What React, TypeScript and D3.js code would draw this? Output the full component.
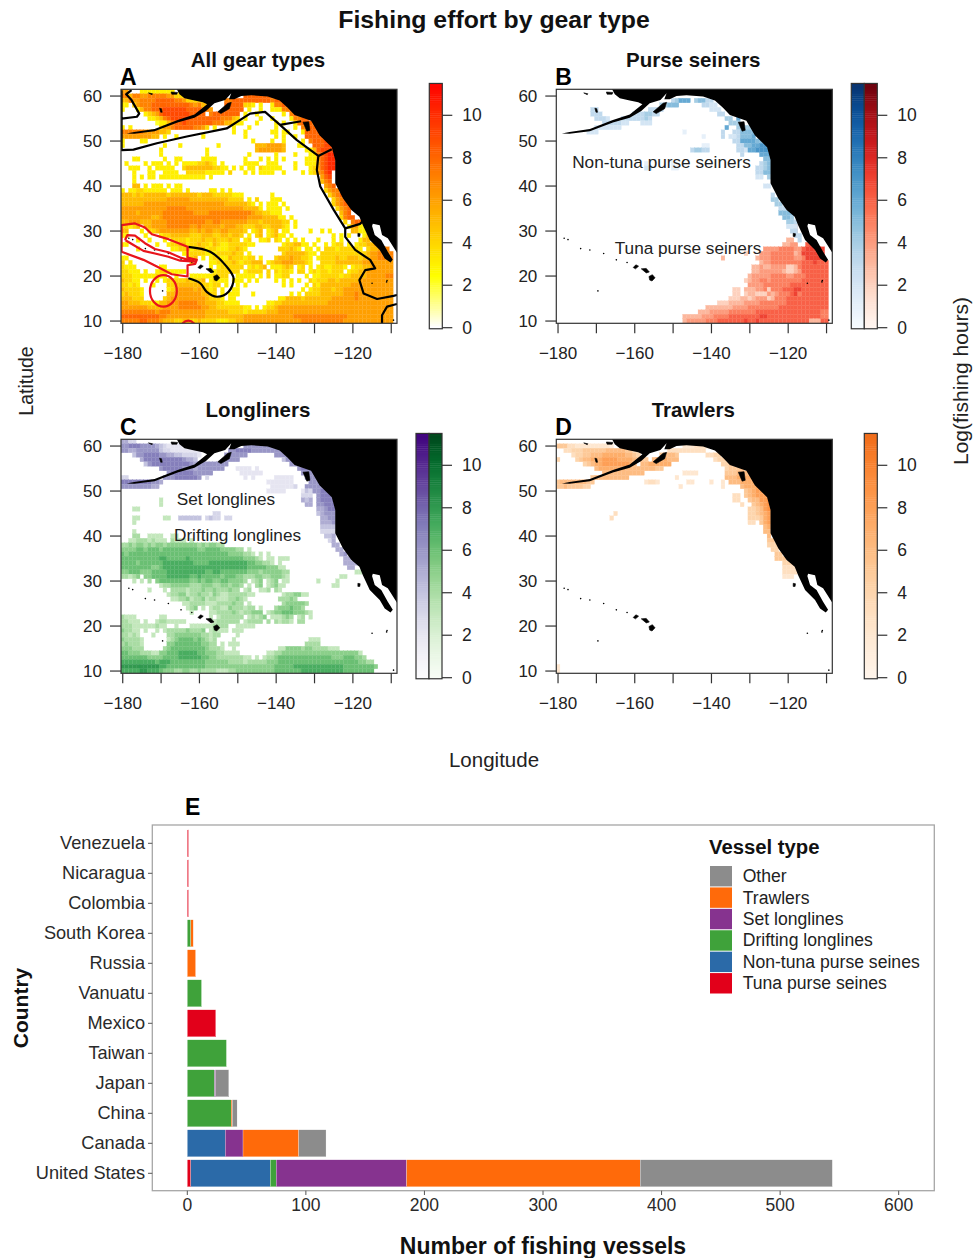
import React from 'react';
import * as d3 from 'd3';

// Grid rows run from 61N down to 10N. Each group is one decade of longitude, starting at -180.
// '.' or a missing cell is no effort, '_' is an empty decade, digits are log(fishing hours).
const allGearRows = [
  "66...33333 3333.3",
  "7757766777 7766444..3 _ ..88888888 888",
  "5576677778 8888776444 44.....778 8888888887 88877",
  "33.4677788 8888888876 755....888 88443.3..3 77888",
  "3...357788 8999999888 8776...888 88.3..3..3 33778888",
  "......3456 8999999988 88.7888888 8.3..3.... ..3.7888",
  ".......334 5789999988 8888887775 4.3...3..3 ....37788",
  ".........2 3357889888 8888777554 33...3.... 3.3..37888 7",
  "3.3....... 4667888887 764.3....3 ...3...... 3....3.778 88",
  "7777776666 554....... .........3 ..3......3 3.33...388 88",
  "6666666655 .3..3..... .3........ ..3....... 3.3..3..88 888",
  "3....33... _ _ ....3....3 ..3....3.7 88899",
  "3......... .3...3.... .....3.... .....55566 665...33.. 88899",
  "_ 3......... ..3....... .....56666 665.....33 589999",
  "_ 3......... ..3....... ...3...... 3....3...3 3789aa",
  "...33..... .3..33.... .3333..... ..3...3.3. 3.3.....33 3689aa",
  ".3....3.33 3.3.3.3333 44543.3... ..3333..33 3....3..33 3689aa",
  "..333..3.3 3333..4555 55554433.3 .3.33.4333 33...3...3 4689aa",
  "...3...33. .3333..444 4433333.4. ..3.3.3333 ..3....3.3 4679a",
  "...3.3.33. 3333333333 33.3...... _ _ ..689",
  "...3...... _ _ _ _ ..578",
  "...55.3.33 3.3.33.... _ _ _ ...678",
  "3.33443333 33.333.3.. ...33.3.3. _ _ ...4677",
  "5554545555 5545555555 4555444443 33.......3 _ ....46788",
  "5555555555 5566666655 5555555544 44.3.4...3 33 .....46788",
  "5555556666 6666666666 6666666555 55543.3.33 3.3. .....46788",
  "6666666666 6677777666 6666666666 6655553.33 33.3 ......4678",
  "6666566666 6777777776 6667777777 7777655443 33 .......578",
  "6666666655 6777777777 7777777777 7776666555 533.3 .......478 8",
  "5566655566 6677777777 7766776666 6665554555 5544.3 ........4 788",
  "44345.5566 6677777766 7666665666 5544455445 5543.3 .........3 6633",
  "55...3.445 6666666655 6566556655 554.345.34 5.33.....3 ..3.3..... 5533",
  "33....3... 3445555544 4555445545 54.3.45.34 533.3..... .....3.3.3 ...35",
  "....3..3.. .3.4444344 4544544454 4.34..334. 43.3.3.3.. .3...3.3.. ..355",
  "33.......3 ..34455344 5443543344 44433..... ..3445533. 3..3.344.3 .344556",
  "....3..... ...3344534 4534433344 543....... .444543.33 .3.4443444 443.455677",
  "_ ......3344 4433344445 44.3...... ..45555543 3.44444444 4444566777 7",
  "33........ .......345 .3.3443354 44344.3... 4555655443 .344445445 5545566777 7",
  "4.3....... ........3. ...3344445 4344555.34 5566655543 ..44445555 5556666666 6",
  "4333...... 33........ ...3.34444 44.34345.3 33454.34.3 .34334443. 3445566666 6",
  "44333.3..3 4433333... ....344444 4.34444.4. 43443.44.3 43443444.3 4455666666 6",
  "4443333334 33..3...33 33334444.. 33333.3.4. 3344....3. 3344444344 5555666667 7",
  "54433.3..3 .344444544 45.34333.3 33.3.3.... 3.3.3.3..4 3444554555 5566666666 6",
  "44343...3. ..44555555 544344.3.. 3.3....... ..3.3...3. 4355555555 6666666666 6",
  "544443.... ..34566665 65434.3..3 3......... .......3.3 4455545566 6666666666 6",
  "454443.... ..55666666 65544.3.33 3...3..... ....3.3.44 4455555566 6766666666 6",
  "555444.... .456666666 6654443.33 .......... .335555455 5555566666 6766666666 6",
  "6655544433 5566677777 6655544333 3.......33 4455555555 5555666666 6666666666 6",
  "6666666555 5666677777 7665544444 4433.3.344 5666666666 6666666666 6666666666 6",
  "7777777776 7776666666 6655555544 4434444455 5666666666 6666666666 6666666666 6",
  "8888888888 7766666666 6655555555 5566666666 6666677777 7777777776 6666666666 6",
  "7777788777 6555445544 5444433344 5566666666 6666666777 7777777766 6666666666 6",
];

const tunaRows = [
  "", "", "", "", "", "", "", "", "", "", "", "", "", "", "", "", "", "", "", "", "", "", "", "", "", "", "", "", "", "",
  "_ _ _ _ _ _ ..4",
  "_ _ _ _ _ _ ..3",
  "",
  "_ _ _ _ _ _ 33",
  "_ _ _ _ _ .........3 344..677",
  "_ _ _ _ _ ....444455 5544677777",
  "_ _ _ _ .........2 ...4445555 5534777777",
  "_ _ _ _ ...3 ..34445555 5544577777",
  "_ _ _ _ _ ...3445555 5555666766 6",
  "_ _ _ _ _ .334334444 2235666666 6",
  "_ _ _ _ _ .334444443 2234666666 6",
  "_ _ _ _ _ 3444445555 4455566666 6",
  "_ _ _ _ .........2 3445545555 5555666666 6",
  "_ _ _ _ _ 4444555555 5666666666 6",
  "_ _ _ _ ......22.3 3344525556 6677666666 6",
  "_ _ _ _ ......22.2 3322243455 5675666666 6",
  "_ _ _ _ .....22233 2344423555 6666666666 6",
  "_ _ _ _ ..22233334 4445555555 6666666666 6",
  "_ _ _ .........3 3333334444 5555555566 6666666666 6",
  "_ _ _ .......333 4444455555 5566666666 6666666665 5",
  "_ _ _ ...3333344 4555566666 6667766666 6666666665 5",
  "_ _ _ ...3444445 5566666667 6676666666 6666663336 6",
];

const nonTunaRows = [
  "", "",
  "_ _ _ 34666.4553 3",
  "_ _ .......445 55......33 22",
  ".........3 3......... ....3333.. _ 222",
  ".........3 33........ 3334433... _ ..33",
  "_ 3332...333 33343..... _ ....44.6..",
  "_ ..3333322. ..222..... _ .....444..",
  "_ 2222222... _ _ ....6..444 4",
  "........22 2......... _ ...1...... ...3..3355 55",
  "_ _ _ ........1. ...3.22355 56",
  "_ _ _ _ ......3366 6655",
  "_ _ _ ........11 .......335 56677",
  "_ _ _ .....34433 .......332 667777",
  "_ _ _ _ ........3. ...666",
  "_ _ _ _ _ ....55",
  "_ _ ...1...... 1......... _ ...345",
  "_ _ ...22..... 11 _ ..3345",
  "_ _ _ _ _ ..3355",
  "_ _ _ _ _ ..22.4",
  "",
  "_ _ _ _ _ ....22",
  "",
  "_ _ _ _ _ ......3",
  "_ _ _ _ _ ......44",
  "_ _ _ _ _ .......44",
  "_ _ _ _ _ ........33",
  "_ _ _ _ _ ........55 55",
  "_ _ _ _ _ .........5 54",
  "_ _ _ _ _ _ 443",
  "_ _ _ _ _ _ 222",
  "_ _ _ _ _ _ .33",
  "_ _ _ _ _ _ ..33",
  "_ _ _ _ _ _ ...3",
];

const setRows = [
  "5533......",
  "6677766665 4322221... _ ..66666666 6",
  "6655666666 4332222222 2.......66 7777666666 66",
  "...4667777 6655443333 2......666 666....... 66666",
  ".....57777 7777776554 .......666 6......... ..4677",
  "......4677 7777777765 66666666.. _ ....6677",
  "_ 6777776665 6666666... 2222.2.... ......6777",
  "_ ..67777776 6666...... .222222... .......666 6",
  "33........ .666777777 6.3....... ..2.2..... 22222...66 66",
  "7777777766 5......... _ ........22 22222....6 666",
  "6666666655 _ _ .........2 222223..66 666",
  "_ _ _ ........22 222....243 66777",
  "_ _ _ _ .......333 .6777",
  "_ _ _ _ .......545 .67777",
  "_ _ _ _ ........55 .66777",
  "_ _ _ _ _ .55677",
  "_ _ ....33.... _ _ .45666",
  "_ .....44444 4.3433.33. _ _ ..5566",
  "_ _ _ _ _ ..5556",
  "_ _ _ _ _ ..4444",
  "_ _ _ _ _ ..3333",
  "_ _ _ _ _ ...445",
  "_ _ _ _ _ ....35",
  "_ _ _ _ _ .....55",
  "_ _ _ _ _ ......55",
  "_ _ _ _ _ .......56",
  "_ _ _ _ _ ........55",
  "_ _ _ _ _ ........55 55",
  "_ _ _ _ _ .........5 5",
];

const driftRows = [
  "", "", "", "", "", "", "", "", "", "", "", "", "",
  "_ 3",
  "_ 3",
  "...33",
  "",
  "...33..... .33",
  "...3",
  "",
  "...3",
  "...44..333 3..33",
  "..33444343 33.4333.3.",
  "4454554545 5455555555 4545544...",
  "5555665666 5666666666 5566665555 44.3",
  "6566666666 6666666666 6666666655 55443.3.3.",
  "6666666666 7766666766 6666666666 6655543.33 .333",
  "6666566666 6777777776 6667777777 7776655443 .3",
  "6666666655 6777777777 7777777777 7776666655 533",
  "5566655566 6677777777 7766776666 6665554555 5544 _ .33",
  "44345.5566 6677777766 7666665666 5544455445 5543 .......33",
  "...3.3.4.5 6666666655 6566556655 554.345.34 5.33 .3....3",
  "_ 3445555544 4555445545 54.3.45.34 533 .....33",
  ".......3.. .3.4444344 4544544454 4.34..334. 43",
  "_ ..34455344 5443543344 44433..... ..3445533",
  "_ ...3344534 4534433344 543....... .44454",
  "_ ......3344 4433344445 44.3...... ..4555554",
  "_ .......345 .3.3443354 44344.3... 45556554",
  "_ ........3. ...3344445 4344555.34 5566655543",
  "4333...... 33........ ...3.34444 44.34345.3 33454.34.3",
  "44333.3..3 4433333... ....344444 4.34444.4. 43443.44",
  "4443333334 33..3...33 33334444.. 33333",
  "54433.3..3 .344444544 45.34333.3 33",
  "44343...3. ..44555555 544344.... 3",
  "544443.... ..34566665 65434....3 _ .........3 33",
  "454443.... ..55666666 65544.3.33 3 ........44 44",
  "555444.... .456666666 6654443..3 _ .335555455 4444333",
  "6655544433 5566677777 6655544333 3.......33 4455555555 5555555555 553",
  "6666666555 5666677777 7665544444 4433.3.344 5666666666 6666655566 6554",
  "7777777776 7776666666 6655555544 4434444455 5666666666 6666666666 665544",
  "8888888888 7766666666 6655555555 5555555555 6666677777 7777777766 6666665",
  "7777788777 6555445544 5444433344 5555555555 6666666777 7777777766 666666",
];

const trawlRows = [
  "",
  "5553322222 22221..... _ ...2223332 2",
  "..33444555 5556666655 33.......3 333333333.",
  "....344556 6677777766 54.....566 65.......3 344",
  "4....45667 7788887777 6655.67776 66........ .3444",
  ".......456 7788888887 6.66777777 _ ...445",
  "_ 6777777766 66666655.. _ ....45556.",
  "_ ..66666666 666....... ...2222... ....555666 66",
  ".........5 666666666. _ .2........ ....666777 77",
  "5666666655 _ ...2332... ....22.... 2..2.66677 777",
  "556555544. _ _ ..2....... ...2....67 778",
  "_ _ _ _ .........5 6788",
  "_ _ _ _ ......33.5 67888",
  "_ _ _ _ ......33.. 566889",
  "_ _ _ _ ........3. .56789",
  "_ _ _ _ _ 445689",
  "_ .....3.... _ _ _ 445678",
  "_ ....3..... _ _ _ 444578",
  "_ _ _ _ _ 33.578",
  "_ _ _ _ _ ....67",
  "_ _ _ _ _ ....66",
  "_ _ _ _ _ .....6",
  "_ _ _ _ _ .....55",
  "_ _ _ _ _ .....444",
  "_ _ _ _ _ ......44",
  "_ _ _ _ _ .......55",
  "_ _ _ _ _ .......555",
  "_ _ _ _ _ .........4 44",
  "_ _ _ _ _ .........3 333",
  "_ _ _ _ _ .........3 333",
  "_ _ _ _ _ .........2 22",
  "", "", "", "", "", "", "", "", "", "", "", "", "", "", "", "", "", "", "",
  "2",
  "2",
];

// Coastlines and boundaries, [lon, lat]
const mainland = [
  [-166.1, 61.8], [-165.2, 60.4], [-163.9, 59.5], [-161.3, 59], [-159.1, 58.6], [-158, 58.2], [-161.3, 55.9],
  [-165.7, 54.7], [-171.7, 52.7], [-177, 52], [-179, 51.7], [-177, 51.6], [-171.7, 52.2], [-165.7, 54.1],
  [-161.3, 55.2], [-158.3, 56.7], [-156.1, 58.4], [-153.3, 59.1], [-151.7, 60.6], [-152.3, 59.3], [-150.9, 59.3],
  [-149.1, 60], [-146.5, 60.2], [-142.2, 59.9], [-139.1, 59], [-137, 57.4], [-135.2, 55.8], [-130.9, 54.5],
  [-128.7, 51.3], [-125.5, 48.6], [-124.6, 45.8], [-124.6, 40.6], [-122.6, 37.3], [-120.4, 34.7], [-118.3, 33.2],
  [-117.4, 31.3], [-115.6, 28], [-113, 25.8], [-111.7, 23.9], [-110.2, 23], [-109.6, 23.6], [-110.9, 25.4],
  [-112.6, 28], [-114.3, 29.1], [-115, 31.1], [-114.8, 31.6], [-113, 31.3], [-112.4, 29.1], [-110.9, 28.4],
  [-108.5, 25.2], [-100, 25.2], [-100, 70], [-166.1, 70],
];
const islands = [
  [[-155.2, 56.5], [-152.6, 58.4], [-151.7, 58.6], [-152.2, 57.2], [-154.4, 56.1]], // Kodiak
  [[-133, 54.2], [-131.5, 54.3], [-131.2, 52.4], [-132, 52.2]], // Haida Gwaii
  [[-156.3, 19.9], [-155.4, 20.3], [-154.7, 19.6], [-155.5, 18.9], [-156.1, 19.1]], // Hawaii
  [[-158.3, 21.6], [-157, 21.7], [-156.2, 20.9], [-157, 20.7]], // Maui
  [[-160.4, 21.9], [-159.7, 22.5], [-159, 22.2], [-159.8, 21.6]], // Oahu
  [[-167.4, 60.9], [-165.7, 60.8], [-165.9, 60.4], [-167.2, 60.4]], // Nunivak
  [[-173.3, 60.7], [-172.2, 60.5], [-172.4, 60.3]], // St Matthew
  [[-170.4, 57.3], [-169.9, 57.2], [-169.7, 56.4], [-170.1, 56.4]], // Pribilof
  [[-118.7, 29.5], [-118.1, 29.4], [-118.2, 28.8], [-118.7, 28.8]], // Guadalupe
];
const islets = [
  [-178.4, 28.4], [-177.4, 28.1], [-174.1, 26.1], [-171.7, 25.8], [-168.1, 25], [-164.8, 23.6], [-162, 23],
  [-169.6, 16.7], [-115, 18.4], [-111.1, 19], [-111.2, 18.7], [-109.4, 10.2],
];
const eezBlack = [
  [[-180.3, 61.3], [-180.3, 55], [-176.3, 55.4], [-175.7, 56.1], [-177.7, 59.1], [-179.1, 60.4], [-177.7, 61.3]],
  [[-180.3, 55], [-180.3, 48], [-177.2, 48.1], [-171.1, 49.5], [-163.3, 51], [-152.9, 52.8], [-146.8, 56.1], [-142.9, 56.5],
    [-139, 53.6], [-134.6, 50.2], [-129, 46.7], [-129.4, 43.6], [-128.5, 39.9], [-125, 34.7], [-122, 30.6], [-122, 28.7],
    [-119.4, 25.8], [-115.5, 23.6], [-114.2, 21.7], [-116.8, 21.3], [-118.3, 19.1], [-117.2, 16.1], [-113.7, 14.9],
    [-109.4, 15.6], [-108.5, 15.8]],
  [[-122, 30.6], [-118.1, 31.6], [-117.2, 32.4]],
  [[-139, 53.6], [-133.5, 54.4]],
  [[-129, 46.7], [-125.5, 48.2]],
  [[-108.5, 13.8], [-111.1, 13.2], [-112.4, 11.3], [-112.4, 9.5]],
];
const hawaiiEez = [
  [-162.9, 26.5], [-157.2, 25.4], [-152.9, 22.1], [-151.1, 19.5], [-152.4, 16.5], [-155.5, 15.4], [-158.1, 16.5],
  [-159.8, 18.4], [-162.9, 19.5],
];
const redOuter = [
  [-180.3, 25.4], [-180.3, 31.3], [-176.8, 31.7], [-174.2, 30.8], [-172.4, 29.3], [-168.1, 28.2], [-163.1, 26.5],
  [-163.1, 24.1], [-160.7, 23.6], [-161.1, 22.7], [-163.1, 22.4], [-163.1, 19.9], [-167.2, 20.4], [-171.1, 22.1],
  [-174.6, 23.6], [-180.3, 25.4],
];
const redInner = [
  [-179.4, 28], [-178.8, 29.1], [-176.8, 29], [-174.2, 27.3], [-171.6, 26], [-168.1, 25.3], [-165, 24.1], [-161.1, 23.2],
  [-165, 23.4], [-168.1, 24.3], [-171.6, 25], [-174.6, 25.6], [-177.2, 26.9], [-179.4, 28],
];
const reserveCircles = [
  { lon: -169.4, lat: 16.7, r: 3.5 },
  { lon: -162.9, lat: 8.1, r: 2 },
];

const lonTicks = [-180, -170, -160, -150, -140, -130, -120, -110];
const lonLabels = [-180, -160, -140, -120];
const latTicks = [10, 20, 30, 40, 50, 60];
const barTicks = [0, 2, 4, 6, 8, 10];

// Panel E
const countries = ["Venezuela", "Nicaragua", "Colombia", "South Korea", "Russia", "Vanuatu", "Mexico", "Taiwan", "Japan", "China", "Canada", "United States"];
const vesselTypes = ["Other", "Trawlers", "Set longlines", "Drifting longlines", "Non-tuna purse seines", "Tuna purse seines"];
const stackOrder = ["Tuna purse seines", "Non-tuna purse seines", "Drifting longlines", "Set longlines", "Trawlers", "Other"];
const vesselColors = ["#8c8c8c", "#ff6a0a", "#86338f", "#3fa23a", "#2b6aa8", "#e2001a"];
const tunaVessels = [1, 1, 1, 0, 0, 0, 24, 0, 0, 0, 0, 3];
const nonTunaVessels = [0, 0, 0, 0, 0, 0, 0, 0, 0, 0, 32, 67];
const driftVessels = [0, 0, 0, 3, 0, 12, 0, 33, 23, 37, 0, 5];
const setVessels = [0, 0, 0, 0, 0, 0, 0, 0, 1, 0, 15, 110];
const trawlVessels = [0, 0, 0, 2, 7, 0, 0, 0, 0, 1, 47, 197];
const otherVessels = [0, 0, 0, 0, 0, 0, 0, 0, 11, 4, 23, 162];
const vesselTicks = [0, 100, 200, 300, 400, 500, 600];

const FONT = '"Liberation Sans", Arial, sans-serif';
const INK = '#333';

const parseRows = (rows: string[]) => {
  const cells: { lon: number; lat: number; v: number }[] = [];
  rows.forEach((row, r) => {
    const groups = row.split(' ').filter(g => g.length);
    groups.forEach((g, k) => {
      if (g === '_') return;
      g.split('').forEach((ch, i) => {
        if (ch !== '.') cells.push({ lon: -180 + k * 10 + i, lat: 61 - r, v: parseInt(ch, 36) });
      });
    });
  });
  return cells;
};

const heat = d3.scaleLinear<string>().domain([0, 2.4, 5.8, 11.5]).range(['#ffffff', '#ffff00', '#ffa500', '#ff0000']);
const trawlColor = (v: number) => d3.interpolateOranges((v / 11.5) * 0.62);
const blueColor = (v: number) => d3.interpolateBlues(v / 11.5);
const redColor = (v: number) => d3.interpolateReds(v / 11.5);
const purpleColor = (v: number) => d3.interpolatePurples(v / 11.5);
const greenColor = (v: number) => d3.interpolateGreens(v / 11.5);

interface Layer {
  rows: string[];
  color: (v: number) => string;
}

interface MapPanelProps {
  id: string;
  title: string;
  letter: string;
  left: number;
  top: number;
  layers: Layer[];
  barX: number;
  bars: ((v: number) => string)[];
  children?: (x: d3.ScaleLinear<number, number>, y: d3.ScaleLinear<number, number>) => React.ReactNode;
}

const MapPanel: React.FC<MapPanelProps> = ({ id, title, letter, left, top, layers, barX, bars, children }) => {
  const x = d3.scaleLinear().domain([-180.45, -108.5]).range([left, left + 276]);
  const y = d3.scaleLinear().domain([61.5, 9.5]).range([top, top + 234]);
  const line = d3.line<number[]>().x(d => x(d[0])).y(d => y(d[1]));
  const barY = d3.scaleLinear().domain([0, 10]).range([top + 238.4, top + 26]);
  const barW = 13;
  const steps = d3.range(0, 11.5, 0.1);
  const barEnd = barX + bars.length * barW;

  return (
    <g fontFamily={FONT}>
      <clipPath id={id}>
        <rect x={left} y={top} width={276} height={234} />
      </clipPath>
      <g clipPath={`url(#${id})`}>
        <g filter="url(#soft)">
          {layers.map((layer, li) =>
            parseRows(layer.rows).map((c, i) => (
              <rect
                key={`${li}-${i}`}
                x={x(c.lon - 0.5)}
                y={y(c.lat + 0.5)}
                width={x(c.lon + 0.5) - x(c.lon - 0.5)}
                height={y(c.lat - 0.5) - y(c.lat + 0.5)}
                fill={layer.color(c.v)}
                stroke={layer.color(c.v)}
                strokeWidth={0.25}
              />
            ))
          )}
        </g>
        <path d={line(mainland as number[][]) + 'Z'} fill="#000" />
        {islands.map((p, i) => (
          <path key={i} d={line(p as number[][]) + 'Z'} fill="#000" stroke="#000" strokeWidth={0.6} />
        ))}
        {islets.map((p, i) => (
          <circle key={i} cx={x(p[0])} cy={y(p[1])} r={0.8} fill="#000" />
        ))}
        {children && children(x, y)}
      </g>
      <rect x={left} y={top} width={276} height={234} fill="none" stroke={INK} strokeWidth={1.2} />

      {lonTicks.map(t => (
        <line key={t} x1={x(t)} x2={x(t)} y1={top + 234} y2={top + 244} stroke={INK} strokeWidth={1.2} />
      ))}
      {lonLabels.map(t => (
        <text key={t} x={x(t)} y={top + 270} textAnchor="middle" fontSize={17} fill="#222">
          {'\u2212' + Math.abs(t)}
        </text>
      ))}
      {latTicks.map(t => (
        <g key={t}>
          <line x1={left - 11} x2={left} y1={y(t)} y2={y(t)} stroke={INK} strokeWidth={1.2} />
          <text x={left - 19} y={y(t) + 6} textAnchor="end" fontSize={17} fill="#222">{t}</text>
        </g>
      ))}

      {bars.map((color, b) => (
        <g key={b}>
          {steps.map(v => (
            <rect key={v} x={barX + b * barW} y={barY(v + 0.1)} width={barW} height={barY(v) - barY(v + 0.1) + 0.4} fill={color(v)} />
          ))}
          <rect x={barX + b * barW} y={barY(11.5)} width={barW} height={barY(-0.05) - barY(11.5)} fill="none" stroke={INK} strokeWidth={1.2} />
        </g>
      ))}
      {barTicks.map(t => (
        <g key={t}>
          <line x1={barEnd} x2={barEnd + 10} y1={barY(t)} y2={barY(t)} stroke={INK} strokeWidth={1.2} />
          <text x={barEnd + 20} y={barY(t) + 6} fontSize={17.5} fill="#222">{t}</text>
        </g>
      ))}

      <text x={left + 137} y={top - 22} textAnchor="middle" fontSize={20.5} fontWeight="bold" fill="#111">{title}</text>
      <text x={left - 1} y={top - 4} fontSize={23} fontWeight="bold" fill="#000">{letter}</text>
    </g>
  );
};

const BarPanel: React.FC = () => {
  const x = d3.scaleLinear().domain([0, 600]).range([187.3, 898.7]);
  const y = d3.scaleBand().domain(countries).range([828.3, 1188.3]).paddingInner(0.1).paddingOuter(0.05);
  const byType: Record<string, number[]> = {
    'Tuna purse seines': tunaVessels,
    'Non-tuna purse seines': nonTunaVessels,
    'Drifting longlines': driftVessels,
    'Set longlines': setVessels,
    Trawlers: trawlVessels,
    Other: otherVessels,
  };
  const table = countries.map((c, i) => {
    const row: Record<string, number | string> = { country: c };
    stackOrder.forEach(t => { row[t] = byType[t][i]; });
    return row;
  });
  const series = d3.stack<any>().keys(stackOrder)(table);
  const color = d3.scaleOrdinal<string>().domain(vesselTypes).range(vesselColors);
  const legendY = d3.scaleBand().domain(vesselTypes).range([865.5, 994]);

  return (
    <g fontFamily={FONT}>
      <rect x={152.3} y={825} width={782} height={365.7} fill="#fff" stroke="#a6a6a6" strokeWidth={1.3} />
      {series.map(s => (
        <g key={s.key} fill={color(s.key)}>
          {s.map((d, i) => (
            d[1] > d[0] && (
              <rect
                key={i}
                x={x(d[0])}
                y={y(countries[i])}
                width={x(d[1]) - x(d[0])}
                height={y.bandwidth()}
                stroke="#fff"
                strokeWidth={0.25}
              />
            )
          ))}
        </g>
      ))}
      {countries.map(c => (
        <g key={c}>
          <line x1={148} x2={152.3} y1={y(c)! + y.bandwidth() / 2} y2={y(c)! + y.bandwidth() / 2} stroke="#555" />
          <text x={145} y={y(c)! + y.bandwidth() / 2 + 6} textAnchor="end" fontSize={18.2} fill="#2a2a2a">{c}</text>
        </g>
      ))}
      {vesselTicks.map(t => (
        <g key={t}>
          <line x1={x(t)} x2={x(t)} y1={1190.7} y2={1195} stroke="#555" />
          <text x={x(t)} y={1211} textAnchor="middle" fontSize={17.5} fill="#2a2a2a">{t}</text>
        </g>
      ))}
      <text x={709} y={854} fontSize={20.3} fontWeight="bold" fill="#111">Vessel type</text>
      {vesselTypes.map(t => (
        <g key={t}>
          <rect x={710} y={legendY(t)! + 0.5} width={22} height={legendY.bandwidth() - 1} fill={color(t)} />
          <text x={742.7} y={legendY(t)! + legendY.bandwidth() / 2 + 6} fontSize={17.6} fill="#222">{t}</text>
        </g>
      ))}
      <text x={185} y={815} fontSize={23} fontWeight="bold" fill="#000">E</text>
      <text x={543} y={1254} textAnchor="middle" fontSize={23} fontWeight="bold" fill="#111">Number of fishing vessels</text>
      <text transform="translate(28,1008) rotate(-90)" textAnchor="middle" fontSize={21} fontWeight="bold" fill="#111">Country</text>
    </g>
  );
};

const App: React.FC = () => {
  const note = (label: string, px: number, py: number) => (
    <text x={px} y={py} textAnchor="middle" fontFamily={FONT} fontSize={17.2} fill="#222">{label}</text>
  );
  const plain = (x: d3.ScaleLinear<number, number>, y: d3.ScaleLinear<number, number>) =>
    d3.line<number[]>().x(d => x(d[0])).y(d => y(d[1]));

  return (
    <svg width={973} height={1258} style={{ position: 'absolute', left: 0, top: 0, background: '#fff' }}>
      <defs>
        <filter id="soft" x="-2%" y="-2%" width="104%" height="104%">
          <feGaussianBlur stdDeviation={0.45} />
        </filter>
      </defs>
      <text x={494} y={28} textAnchor="middle" fontFamily={FONT} fontSize={24.8} fontWeight="bold" fill="#111">Fishing effort by gear type</text>

      <MapPanel id="map-a" title="All gear types" letter="A" left={121} top={89.3}
        layers={[{ rows: allGearRows, color: heat }]} barX={429.3} bars={[heat]}>
        {(x, y) => (
          <g fill="none" strokeLinejoin="round">
            <g stroke="#000" strokeWidth={2.2}>
              {eezBlack.map((p, i) => (
                <path key={i} d={plain(x, y)(p as number[][])!} />
              ))}
              <path d={plain(x, y).curve(d3.curveCatmullRom.alpha(0.5))(hawaiiEez as number[][])!} />
            </g>
            <g stroke="#e8141c" strokeWidth={2.2}>
              <path d={plain(x, y)(redOuter as number[][])!} />
              <path d={plain(x, y)(redInner as number[][])!} />
              {reserveCircles.map((c, i) => (
                <ellipse key={i} cx={x(c.lon)} cy={y(c.lat)} rx={x(c.lon + c.r) - x(c.lon)} ry={y(c.lat - c.r) - y(c.lat)} />
              ))}
            </g>
          </g>
        )}
      </MapPanel>

      <MapPanel id="map-b" title="Purse seiners" letter="B" left={556.3} top={89.3}
        layers={[{ rows: tunaRows, color: redColor }, { rows: nonTunaRows, color: blueColor }]}
        barX={851.3} bars={[blueColor, redColor]} />

      <MapPanel id="map-c" title="Longliners" letter="C" left={121} top={439.3}
        layers={[{ rows: driftRows, color: greenColor }, { rows: setRows, color: purpleColor }]}
        barX={416} bars={[purpleColor, greenColor]} />

      <MapPanel id="map-d" title="Trawlers" letter="D" left={556.3} top={439.3}
        layers={[{ rows: trawlRows, color: trawlColor }]} barX={864.3} bars={[trawlColor]} />

      {note('Non-tuna purse seiners', 661.5, 168)}
      {note('Tuna purse seiners', 688, 254)}
      {note('Set longlines', 226, 505)}
      {note('Drifting longlines', 237.5, 541)}

      <g fontFamily={FONT} fill="#222" textAnchor="middle">
        <text transform="translate(33,381) rotate(-90)" fontSize={19.5}>Latitude</text>
        <text transform="translate(968,381) rotate(-90)" fontSize={21}>Log(fishing hours)</text>
        <text x={494} y={767} fontSize={20.5}>Longitude</text>
      </g>

      <BarPanel />
    </svg>
  );
};

export default App;
